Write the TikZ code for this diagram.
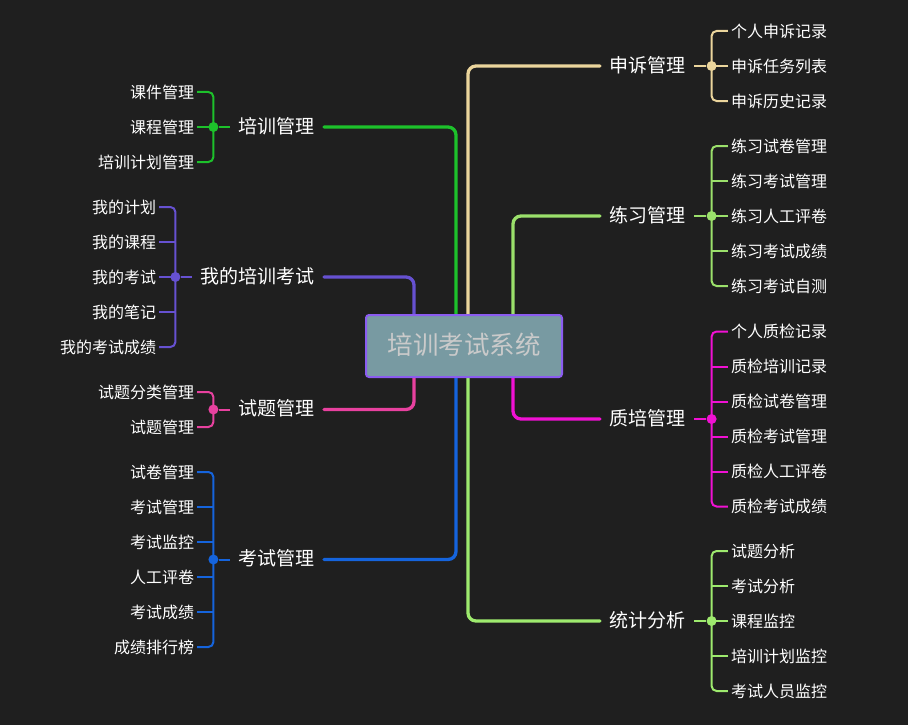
\documentclass[tikz,border=0pt]{standalone}
\usepackage{fontspec}
\setmainfont{Noto Sans CJK SC}
\usepackage{xcolor}
\usepackage{tikz}
\usetikzlibrary{positioning,backgrounds}

\definecolor{bgc}{HTML}{1F1F1F}
\definecolor{rootfill}{HTML}{789AA2}
\definecolor{rootline}{HTML}{8B5CF0}
\definecolor{roottext}{HTML}{CACACA}
\definecolor{appealc}{HTML}{EBD59C}
\definecolor{practc}{HTML}{9BE06B}
\definecolor{qualc}{HTML}{F011D3}
\definecolor{statc}{HTML}{9EEA6E}
\definecolor{trainc}{HTML}{1DC12B}
\definecolor{minec}{HTML}{6651D1}
\definecolor{questc}{HTML}{E8419F}
\definecolor{examc}{HTML}{1564DD}

\begin{document}
\begin{tikzpicture}[
      x=1pt, y=-1pt,
      root/.style={rectangle, draw=rootline, fill=rootfill, line width=2pt, rounded corners=3pt, minimum width=196pt, minimum height=62pt, text=roottext, text height=1.6em, text depth=0em, font=\fontsize{25.5}{30}\selectfont},
      topic/.style={inner xsep=9pt, inner ysep=0pt, text=white, text height=1.25em, text depth=0em, font=\fontsize{19}{23}\selectfont},
      leaf/.style={inner xsep=3pt, inner ysep=0pt, text=white, text height=1.25em, text depth=0em, font=\fontsize{16}{19}\selectfont},
      joint/.style={circle, inner sep=0pt, minimum size=10pt},
      trunk/.style={draw, line width=3.3pt, rounded corners=8pt, line cap=round},
      twig/.style={draw, line width=2pt, rounded corners=5pt}
    ]
    \begin{pgfonlayer}{background}
      \fill[bgc] (0,0) rectangle (908,725);
    \end{pgfonlayer}
    \node[root] (root) at (464,346) {培训考试系统};
    % right side
    \foreach \name/\col/\y/\dx/\side/\n/\lbl/\kids in {
        appeal/appealc/66/4/north/3/申诉管理/{个人申诉记录,申诉任务列表,申诉历史记录},
        practice/practc/216/49/north/5/练习管理/{练习试卷管理,练习考试管理,练习人工评卷,练习考试成绩,练习考试自测},
        quality/qualc/419/49/south/6/质培管理/{个人质检记录,质检培训记录,质检试卷管理,质检考试管理,质检人工评卷,质检考试成绩},
        stats/statc/621/4/south/5/统计分析/{试题分析,考试分析,课程监控,培训计划监控,考试人员监控}} {
        \node[topic, anchor=west] (\name) at (600,\y) {\lbl};
        \node[joint, fill=\col, right=12pt of \name] (\name-j) {};
        \begin{pgfonlayer}{background}
          \draw[trunk, \col] ([xshift=\dx pt]root.\side) |- (\name);
        \end{pgfonlayer}
        \draw[twig, \col] (\name) -- (\name-j);
        \foreach \k [count=\i] in \kids {
            \node[leaf, right=11pt of \name-j, yshift={((\n+1)/2-\i)*35}] (\name-\i) {\k};
            \ifnum\i>1 \ifnum\i<\n \draw[twig, \col] (\name-j |- \name-\i) -- (\name-\i); \fi\fi
        }
        \draw[twig, \col] (\name-1) -| (\name-j.center) |- (\name-\n);
    }
    % left side
    \foreach \name/\col/\y/\dx/\side/\n/\lbl/\kids in {
        train/trainc/127/-8/north/3/培训管理/{课件管理,课程管理,培训计划管理},
        mine/minec/277/-50/north/5/我的培训考试/{我的计划,我的课程,我的考试,我的笔记,我的考试成绩},
        quest/questc/409.5/-50/south/2/试题管理/{试题分类管理,试题管理},
        exam/examc/559.5/-8/south/6/考试管理/{试卷管理,考试管理,考试监控,人工评卷,考试成绩,成绩排行榜}} {
        \node[topic, anchor=east] (\name) at (324,\y) {\lbl};
        \node[joint, fill=\col, left=11pt of \name] (\name-j) {};
        \begin{pgfonlayer}{background}
          \draw[trunk, \col] ([xshift=\dx pt]root.\side) |- (\name);
        \end{pgfonlayer}
        \draw[twig, \col] (\name) -- (\name-j);
        \foreach \k [count=\i] in \kids {
            \node[leaf, left=11pt of \name-j, yshift={((\n+1)/2-\i)*35}] (\name-\i) {\k};
            \ifnum\i>1 \ifnum\i<\n \draw[twig, \col] (\name-j |- \name-\i) -- (\name-\i); \fi\fi
        }
        \draw[twig, \col] (\name-1) -| (\name-j.center) |- (\name-\n);
    }
  \end{tikzpicture}
\end{document}
